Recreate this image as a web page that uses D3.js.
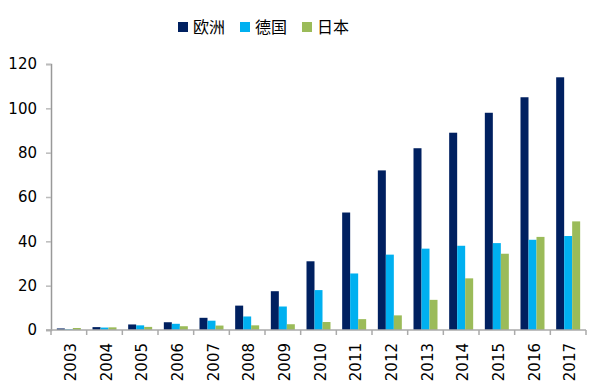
<!DOCTYPE html>
<html>
<head>
<meta charset="utf-8">
<script src="https://cdn.jsdelivr.net/npm/d3@7"></script>
<style>
  body { margin: 0; background: #fff; }
  svg { display: block; }
</style>
</head>
<body>
<div class="chart"></div>
<script>
// data
const years = ['2003','2004','2005','2006','2007','2008','2009','2010','2011','2012','2013','2014','2015','2016','2017'];
const seriesNames = ['欧洲', '德国', '日本'];
const europe  = [0.7, 1.3, 2.5, 3.5, 5.5, 11, 17.5, 31, 53, 72, 82, 89, 98, 105, 114];
const germany = [0.3, 1.1, 2.1, 2.8, 4.2, 6.1, 10.6, 18, 25.5, 34, 36.7, 38, 39.2, 40.7, 42.4];
const japan   = [0.9, 1.2, 1.4, 1.7, 2.0, 2.1, 2.6, 3.6, 4.9, 6.6, 13.6, 23.3, 34.4, 42, 49];
const yTicks = [0, 20, 40, 60, 80, 100, 120];

const colors = ['#002060', '#00B0F0', '#9BBB59'];
const seriesData = [europe, germany, japan];

const width = 600, height = 390;
const margin = { top: 64, right: 14, bottom: 60, left: 51 };
const innerW = width - margin.left - margin.right;
const innerH = height - margin.top - margin.bottom;
const font = '"DejaVu Sans", Verdana, sans-serif';

const svg = d3.select('.chart').append('svg')
    .attr('width', width)
    .attr('height', height);

const g = svg.append('g')
    .attr('transform', `translate(${margin.left},${margin.top})`);

const x = d3.scaleBand().domain(years).range([0, innerW]).paddingInner(0).paddingOuter(0);
// three bars of ~8px sitting in the middle of each year band
const x1 = d3.scaleBand().domain(d3.range(3))
    .range([x.bandwidth() / 2 - 12, x.bandwidth() / 2 + 12]);
const y = d3.scaleLinear().domain([0, 120]).range([innerH, 0]);

// bars
const groups = g.selectAll('.year')
    .data(years)
    .enter().append('g')
    .attr('transform', d => `translate(${x(d)},0)`);

groups.selectAll('rect')
    .data((d, i) => seriesData.map((s, k) => ({ k: k, v: s[i] })))
    .enter().append('rect')
    .attr('x', d => x1(d.k))
    .attr('width', x1.bandwidth())
    .attr('y', d => y(d.v))
    .attr('height', d => innerH - y(d.v))
    .attr('fill', d => colors[d.k]);

// y axis
const yAxis = g.append('g')
    .call(d3.axisLeft(y).tickValues(yTicks).tickSize(5).tickPadding(9));
yAxis.select('.domain').attr('stroke', '#999').attr('stroke-width', 1.5);
yAxis.selectAll('.tick line').attr('stroke', '#bbb').attr('stroke-width', 1.5);
yAxis.selectAll('.tick text')
    .attr('font-family', font).attr('font-size', 15).attr('fill', '#000');

// x axis (category boundaries as ticks)
const xAxisG = g.append('g').attr('transform', `translate(0,${innerH})`);
xAxisG.append('line')
    .attr('x1', -5).attr('x2', innerW)
    .attr('stroke', '#aaa').attr('stroke-width', 1.5);
xAxisG.selectAll('.bound')
    .data(years.concat(['end']))
    .enter().append('line')
    .attr('x1', (d, i) => i * x.bandwidth())
    .attr('x2', (d, i) => i * x.bandwidth())
    .attr('y1', 0).attr('y2', 5)
    .attr('stroke', '#aaa').attr('stroke-width', 1.5);
xAxisG.selectAll('.lbl')
    .data(years)
    .enter().append('text')
    .attr('transform', d => `translate(${x(d) + x.bandwidth() / 2 + 2},13) rotate(-90)`)
    .attr('text-anchor', 'end')
    .attr('dy', '0.35em')
    .attr('font-family', font).attr('font-size', 15)
    .text(d => d);

// legend
const legendX = [178, 240, 302];
const legend = svg.append('g').attr('transform', 'translate(0,27)');
const items = legend.selectAll('g')
    .data(seriesNames)
    .enter().append('g')
    .attr('transform', (d, i) => `translate(${legendX[i]},0)`);
items.append('rect')
    .attr('x', 0).attr('y', -5)
    .attr('width', 10).attr('height', 10)
    .attr('fill', (d, i) => colors[i]);
items.append('text')
    .attr('x', 15).attr('dy', '0.36em')
    .attr('font-family', '"Noto Sans CJK SC", sans-serif')
    .attr('font-size', 16)
    .text(d => d);
</script>
</body>
</html>
